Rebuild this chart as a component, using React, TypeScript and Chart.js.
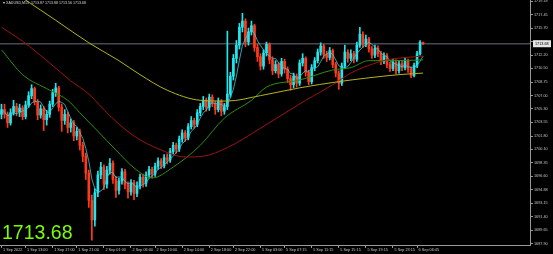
import React, { useEffect, useRef } from "react";
import { Chart, registerables } from "chart.js";
Chart.register(...registerables);

const HEADER = "\u25BE XAUUSD,M15  1713.87 1713.88 1713.56 1713.68";

const opens = [1704.6,1705.2,1704.6,1703.5,1704.8,1705.6,1704.9,1705.4,1704.3,1705.8,
 1707.0,1707.9,1706.2,1704.5,1705.3,1703.9,1704.6,1705.9,1707.4,1708.0,
 1705.5,1703.8,1704.6,1702.9,1703.5,1701.8,1702.4,1700.6,1699.2,1697.0,
 1693.5,1691.0,1694.5,1696.8,1697.8,1695.6,1697.4,1698.3,1696.2,1694.8,
 1696.0,1697.2,1695.5,1694.6,1695.8,1694.4,1695.4,1696.5,1695.7,1696.8,
 1697.5,1696.9,1697.9,1698.6,1698.0,1699.0,1698.7,1699.8,1700.6,1700.1,
 1701.4,1702.2,1701.6,1703.0,1703.8,1703.3,1704.8,1705.6,1706.4,1705.5,
 1706.8,1706.0,1705.2,1706.3,1705.0,1705.6,1707.2,1709.5,1711.8,1713.5,
 1715.8,1716.6,1713.9,1715.2,1716.0,1713.2,1712.0,1710.8,1712.5,1713.6,
 1711.6,1710.2,1711.0,1709.8,1711.4,1710.4,1709.2,1708.4,1709.5,1708.6,
 1711.2,1711.8,1710.0,1708.8,1710.6,1711.5,1712.6,1713.4,1712.3,1711.9,
 1712.8,1711.0,1709.9,1708.6,1710.8,1712.6,1711.8,1712.4,1711.7,1713.5,
 1714.9,1713.6,1714.3,1713.0,1712.2,1713.1,1712.4,1711.4,1712.1,1711.0,
 1710.5,1711.3,1710.2,1711.1,1710.6,1711.4,1710.4,1709.6,1710.9,1712.4,
 1713.87];

const highs = [1705.9,1705.9,1704.9,1705.3,1706.4,1706.0,1705.9,1705.7,1706.3,1707.5,
 1708.4,1708.1,1706.5,1705.8,1705.6,1705.1,1706.3,1707.8,1708.6,1708.2,
 1705.9,1705.2,1704.9,1704.0,1703.8,1702.9,1702.7,1701.0,1699.6,1697.4,
 1694.2,1695.0,1697.3,1698.4,1698.1,1697.9,1698.9,1698.6,1696.6,1696.4,
 1697.6,1697.5,1695.9,1696.2,1696.1,1695.9,1696.9,1696.9,1697.2,1697.9,
 1697.8,1698.3,1699.0,1698.9,1699.4,1699.5,1700.2,1701.0,1700.9,1701.8,
 1702.6,1702.5,1703.4,1704.3,1704.1,1705.2,1706.0,1706.9,1706.7,1707.2,
 1707.1,1706.3,1706.7,1706.5,1706.0,1715.3,1710.0,1712.3,1714.1,1716.3,
 1717.6,1716.9,1715.7,1716.6,1716.2,1713.6,1712.4,1712.9,1713.9,1713.8,
 1712.0,1711.5,1711.3,1711.8,1711.7,1710.7,1709.6,1709.9,1709.8,1711.6,
 1712.4,1712.0,1710.3,1711.0,1711.9,1713.0,1713.8,1713.6,1712.7,1713.2,
 1713.0,1711.3,1710.2,1711.2,1713.5,1712.9,1712.9,1712.7,1713.9,1715.8,
 1715.2,1714.8,1714.5,1713.3,1713.5,1713.4,1712.7,1712.5,1712.4,1711.3,
 1711.7,1711.6,1711.5,1711.4,1711.8,1711.7,1710.7,1711.2,1712.7,1714.1,
 1713.88];

const lows = [1704.0,1704.1,1702.9,1703.2,1704.5,1704.4,1704.3,1703.9,1704.0,1705.5,
 1706.6,1705.8,1703.9,1704.1,1702.5,1703.2,1704.2,1705.6,1706.9,1705.0,
 1702.4,1703.3,1702.2,1702.3,1701.2,1701.3,1700.0,1698.5,1696.2,1692.6,
 1688.4,1690.2,1694.0,1696.3,1694.9,1695.1,1696.9,1695.7,1693.9,1694.3,
 1695.6,1695.0,1693.8,1694.2,1693.6,1694.0,1695.0,1695.2,1695.3,1696.4,
 1696.4,1696.6,1697.5,1697.6,1697.7,1698.2,1698.4,1699.5,1699.6,1699.8,
 1701.0,1701.1,1701.3,1702.7,1702.8,1703.0,1704.4,1705.2,1705.0,1705.1,
 1705.6,1704.6,1704.9,1704.4,1704.6,1705.2,1706.8,1709.0,1711.2,1713.0,
 1715.2,1713.3,1713.5,1714.8,1712.7,1711.4,1710.3,1710.4,1712.1,1711.1,
 1709.7,1709.9,1709.3,1709.5,1709.9,1708.7,1707.7,1708.0,1708.1,1708.3,
 1710.8,1709.5,1708.4,1708.5,1710.2,1711.2,1712.2,1711.8,1711.4,1711.6,
 1710.6,1709.4,1707.8,1708.3,1710.5,1711.3,1711.5,1711.2,1711.4,1713.2,
 1713.2,1713.3,1712.6,1711.8,1711.9,1712.0,1711.0,1711.1,1710.6,1710.1,
 1710.2,1709.8,1709.9,1710.2,1710.3,1710.0,1709.3,1709.4,1710.6,1712.2,
 1713.56];

const closes = [1705.2,1704.6,1703.5,1704.8,1705.6,1704.9,1705.4,1704.3,1705.8,1707.0,
 1707.9,1706.2,1704.5,1705.3,1703.9,1704.6,1705.9,1707.4,1708.0,1705.5,
 1703.8,1704.6,1702.9,1703.5,1701.8,1702.4,1700.6,1699.2,1697.0,1693.5,
 1691.0,1694.5,1696.8,1697.8,1695.6,1697.4,1698.3,1696.2,1694.8,1696.0,
 1697.2,1695.5,1694.6,1695.8,1694.4,1695.4,1696.5,1695.7,1696.8,1697.5,
 1696.9,1697.9,1698.6,1698.0,1699.0,1698.7,1699.8,1700.6,1700.1,1701.4,
 1702.2,1701.6,1703.0,1703.8,1703.3,1704.8,1705.6,1706.4,1705.5,1706.8,
 1706.0,1705.2,1706.3,1705.0,1705.6,1707.2,1709.5,1711.8,1713.5,1715.8,
 1716.6,1713.9,1715.2,1716.0,1713.2,1712.0,1710.8,1712.5,1713.6,1711.6,
 1710.2,1711.0,1709.8,1711.4,1710.4,1709.2,1708.4,1709.5,1708.6,1711.2,
 1711.8,1710.0,1708.8,1710.6,1711.5,1712.6,1713.4,1712.3,1711.9,1712.8,
 1711.0,1709.9,1708.6,1710.8,1712.6,1711.8,1712.4,1711.7,1713.5,1714.9,
 1713.6,1714.3,1713.0,1712.2,1713.1,1712.4,1711.4,1712.1,1711.0,1710.5,
 1711.3,1710.2,1711.1,1710.6,1711.4,1710.4,1709.6,1710.9,1712.4,1713.87,
 1713.68];

// moving averages read at sample bars
const slowMaSlots = [0, 8, 18, 29, 39, 46, 55, 66, 75, 86, 99, 112, 132, 140];
const slowMaValues = [1721.3, 1719.3, 1716.7, 1713.8, 1711.5, 1709.7, 1707.7, 1706.4, 1706.3, 1707.0, 1708.0, 1708.8, 1709.7, 1709.9];
const midMaSlots = [0, 7, 16, 23, 29, 36, 44, 53, 61, 67, 75, 86, 101, 110, 116, 122, 128, 140];
const midMaValues = [1715.8, 1714.0, 1711.2, 1708.9, 1707.2, 1704.4, 1701.8, 1700.0, 1699.1, 1699.2, 1700.3, 1702.8, 1706.4, 1708.4, 1709.9, 1710.9, 1711.6, 1712.1];
const fastMaSlots = [0, 7, 16, 22, 26, 32, 38, 44, 50, 57, 66, 74, 83, 88, 99, 110, 116, 122, 130, 140];
const fastMaValues = [1712.9, 1709.7, 1707.7, 1706.4, 1704.8, 1702.4, 1700.0, 1697.7, 1696.4, 1697.8, 1700.6, 1704.1, 1706.4, 1708.1, 1709.0, 1710.3, 1710.6, 1711.5, 1711.5, 1711.6];

const TOTAL_SLOTS = 176;
const xTickSlots = [0, 8, 17, 25, 34, 43, 51, 60, 69, 77, 86, 94, 103, 112, 121, 130, 138];
const xTickLabels = ["1 Sep 2022", "1 Sep 13:00", "1 Sep 17:00", "1 Sep 21:00", "2 Sep 01:00", "2 Sep 06:00", "2 Sep 10:00", "2 Sep 14:00", "2 Sep 18:00", "2 Sep 22:00", "5 Sep 03:00", "5 Sep 07:15", "5 Sep 11:15", "5 Sep 15:15", "5 Sep 19:15", "5 Sep 23:15", "6 Sep 06:45"];
const yTickValues = [1687.90, 1689.65, 1691.40, 1693.15, 1694.88, 1696.60, 1698.35, 1700.10, 1701.80, 1703.55, 1705.30, 1707.00, 1708.75, 1710.50, 1712.20, 1713.95, 1715.70, 1717.45, 1719.18];
const Y_MIN = 1687.77;
const Y_MAX = 1719.31;

const BULL = "#22e6ec";
const BEAR = "#ff3a1c";
const AXIS = "#9a9a9a";
const TEXT = "#c4c4c4";
const FONT = "'Liberation Sans', Arial, sans-serif";

export default function App() {
  const ref = useRef<HTMLCanvasElement>(null);
  useEffect(() => {
    document.body.style.margin = "0";
    document.body.style.background = "#000";
    const n = closes.length;
    const labels = Array.from({ length: TOTAL_SLOTS }, (_, i) => String(i));
    const bodies = labels.map((_, i) => (i < n ? [opens[i], closes[i]] : null));
    const wicks = labels.map((_, i) => (i < n ? [lows[i], highs[i]] : null));
    const colors = labels.map((_, i) => (i < n && closes[i] < opens[i] ? BEAR : BULL));
    const sparse = (slots: number[], vals: number[]) => {
      const a: (number | null)[] = Array(TOTAL_SLOTS).fill(null);
      slots.forEach((s, j) => (a[s] = vals[j]));
      return a;
    };
    const fast: (number | null)[] = labels.map((_, i) => {
      if (i >= n) return null;
      const from = Math.max(0, i - 4);
      const seg = closes.slice(from, i + 1);
      return seg.reduce((s, v) => s + v, 0) / seg.length;
    });
    const last = closes[n - 1];

    const bgPlugin = {
      id: "bg",
      beforeDraw(chart: any) {
        const c = chart.ctx;
        c.save();
        c.fillStyle = "#000";
        c.fillRect(0, 0, chart.width, chart.height);
        c.restore();
      },
      beforeDatasetsDraw(chart: any) {
        const c = chart.ctx;
        const a = chart.chartArea;
        const y = chart.scales.y.getPixelForValue(last);
        c.save();
        c.strokeStyle = "#464b52";
        c.lineWidth = 1.5;
        c.beginPath();
        c.moveTo(a.left, y);
        c.lineTo(a.right, y);
        c.stroke();
        c.restore();
      },
      afterDraw(chart: any) {
        const c = chart.ctx;
        const a = chart.chartArea;
        const y = chart.scales.y.getPixelForValue(last);
        c.save();
        c.fillStyle = "#e4e4e4";
        c.fillRect(a.right + 3, y - 3.5, 18, 7);
        c.fillStyle = "#000";
        c.font = `3.8px ${FONT}`;
        c.textBaseline = "middle";
        c.textAlign = "left";
        c.fillText(last.toFixed(2), a.right + 5, y);
        c.fillStyle = "#d8d8d8";
        c.font = `3.6px ${FONT}`;
        c.fillText(HEADER, 3, 3);
        c.fillStyle = "#7cfc00";
        c.font = `19.5px ${FONT}`;
        c.textBaseline = "alphabetic";
        c.fillText(last.toFixed(2), 2, 239);
        c.restore();
      },
    };

    const chart = new Chart(ref.current!, {
      type: "bar",
      data: {
        labels,
        datasets: [
          { type: "line", data: sparse(slowMaSlots, slowMaValues), borderColor: "#b4b422", borderWidth: 1, pointRadius: 0, spanGaps: true, cubicInterpolationMode: "monotone", order: 0 } as any,
          { type: "line", data: sparse(midMaSlots, midMaValues), borderColor: "#a01212", borderWidth: 1, pointRadius: 0, spanGaps: true, cubicInterpolationMode: "monotone", order: 0 } as any,
          { type: "line", data: sparse(fastMaSlots, fastMaValues), borderColor: "#2e9010", borderWidth: 1, pointRadius: 0, spanGaps: true, cubicInterpolationMode: "monotone", order: 0 } as any,
          { type: "line", data: fast, borderColor: "#3fc8d8", borderWidth: 0.8, pointRadius: 0, tension: 0, order: 1 } as any,
          { type: "bar", data: bodies, backgroundColor: colors, borderWidth: 0, barThickness: 2, grouped: false, order: 2 } as any,
          { type: "bar", data: wicks, backgroundColor: colors, borderWidth: 0, barThickness: 1, grouped: false, order: 3 } as any,
        ],
      },
      options: {
        responsive: false,
        devicePixelRatio: 1,
        animation: false,
        layout: { padding: 0 },
        plugins: { legend: { display: false }, tooltip: { enabled: false } },
        scales: {
          x: {
            type: "category",
            offset: true,
            grid: { display: true, drawOnChartArea: false, drawTicks: true, tickLength: 3, color: AXIS, offset: false },
            border: { display: true, color: AXIS },
            ticks: {
              autoSkip: false,
              maxRotation: 0,
              minRotation: 0,
              align: "start",
              labelOffset: 1.5,
              padding: 0,
              color: TEXT,
              font: { size: 3.8, family: FONT },
              callback: (v: any) => {
                const k = xTickSlots.indexOf(Number(v));
                return k >= 0 ? xTickLabels[k] : "";
              },
            },
            afterBuildTicks: (s: any) => {
              s.ticks = xTickSlots.map((v) => ({ value: v }));
            },
            afterFit: (s: any) => {
              s.height = 9;
              s.paddingLeft = 0;
              s.paddingRight = 0;
            },
          },
          y: {
            type: "linear",
            position: "right",
            min: Y_MIN,
            max: Y_MAX,
            grid: { display: true, drawOnChartArea: false, drawTicks: true, tickLength: 3, color: AXIS },
            border: { display: true, color: AXIS },
            ticks: {
              autoSkip: false,
              padding: 1,
              color: TEXT,
              font: { size: 3.8, family: FONT },
              callback: (v: any) => Number(v).toFixed(2),
            },
            afterBuildTicks: (s: any) => {
              s.ticks = yTickValues.map((v) => ({ value: v }));
            },
            afterFit: (s: any) => {
              s.width = 23;
              s.paddingTop = 0;
              s.paddingBottom = 0;
            },
          },
        },
      } as any,
      plugins: [bgPlugin],
    });
    return () => chart.destroy();
  }, []);
  return (
    <div style={{ width: 553, height: 254, background: "#000" }}>
      <canvas ref={ref} width={553} height={254} style={{ display: "block", width: 553, height: 254 }} />
    </div>
  );
}
